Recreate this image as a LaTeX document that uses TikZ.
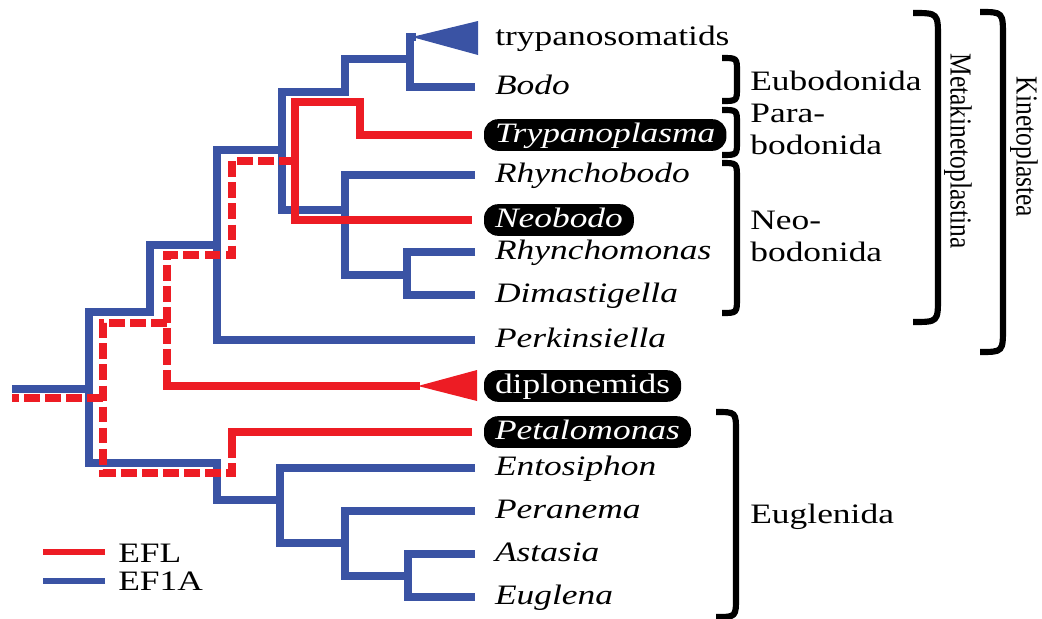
\documentclass[tikz,border=0pt]{standalone}
\usepackage{fontspec}
\setmainfont{Liberation Serif}[FakeStretch=1.26]
\newfontfamily\uprightrm{Liberation Serif}
\usepackage{graphicx}
\usepackage{xcolor}
\usepackage{tikz}
\usetikzlibrary{positioning}
\definecolor{eflred}{RGB}{237,28,36}
\definecolor{efblue}{RGB}{58,83,164}

\begin{document}
\begin{tikzpicture}[x=0.02cm, y=-0.02cm,
    branch/.style={line width=4pt, line join=miter},
    ef1a/.style={branch, draw=efblue},
    efl/.style={branch, draw=eflred},
    efllost/.style={efl, dash pattern=on 9pt off 3pt},
    taxon/.style={anchor=west, inner xsep=0pt, outer xsep=0.16cm, inner ysep=2pt,
      text height=11.5pt, text depth=2.5pt, font=\fontsize{16}{18}\selectfont\itshape},
    marked/.style={fill=black, text=white, rounded corners=8pt, inner xsep=0.22cm, outer xsep=0pt},
    group/.style={anchor=base west, inner sep=0pt, font=\fontsize{16}{18}\selectfont},
    bracket/.style={line width=3.5pt},
    vlabel/.style={rotate=-90, inner sep=0pt, font=\uprightrm\fontsize{14.5}{17}\selectfont}]
  \useasboundingbox (0,0) rectangle (1042,619);

  % taxa
  \node[group] (tryp) at (495,45) {trypanosomatids};
  \node[taxon] (bodo) at (487,87) {Bodo};
  \node[taxon, marked] (tpl) at (484,135) {Trypanoplasma};
  \node[taxon] (rhb) at (487,175) {Rhynchobodo};
  \node[taxon, marked] (neo) at (484,220) {Neobodo};
  \node[taxon] (rhm) at (487,252) {Rhynchomonas};
  \node[taxon] (dim) at (487,295) {Dimastigella};
  \node[taxon] (perk) at (487,340) {Perkinsiella};
  \node[taxon, marked, font=\fontsize{16}{18}\selectfont] (dipl) at (484,386) {diplonemids};
  \node[taxon, marked] (pet) at (484,432) {Petalomonas};
  \node[taxon] (ent) at (487,468) {Entosiphon};
  \node[taxon] (per) at (487,511) {Peranema};
  \node[taxon] (ast) at (487,554) {Astasia};
  \node[taxon] (eug) at (487,597) {Euglena};

  % EF1A tree
  \coordinate (tryptip) at (416,37);
  \coordinate (cTB) at (410,59);
  \coordinate (bTB) at (345,92);
  \coordinate (cMeta) at (282,150);
  \coordinate (cNeo) at (345,210);
  \coordinate (cRD) at (407,275);
  \coordinate (cKin) at (217,245);
  \coordinate (bKin) at (150,312);
  \coordinate (cRoot) at (89,389);
  \coordinate (bEug) at (217,463);
  \coordinate (cEug) at (280,500);
  \coordinate (cPE) at (345,543);
  \coordinate (cAE) at (408,576);
  \coordinate (rootA) at (12,389);

  \draw[ef1a, shorten <=0.24cm] (bodo) -| (cTB) |- (tryptip);
  \fill[efblue] (tryptip) ++(-4,0) -- ++(66,-16) -- ++(0,34) -- cycle;
  \draw[ef1a] (cTB) -| (bTB) -| (cMeta |- cNeo) -- (cNeo);
  \draw[ef1a, shorten <=0.24cm] (rhb) -| (cNeo) |- (cRD);
  \draw[ef1a, shorten <=0.24cm, shorten >=0.24cm] (rhm) -| (cRD) |- (dim);
  \draw[ef1a, shorten >=0.24cm] (cMeta) -| (cKin) |- (perk);
  \draw[ef1a] (cKin) -| (bKin) -| (cRoot) |- (bEug) |- (cEug);
  \draw[ef1a] (cRoot) -- (rootA);
  \draw[ef1a, shorten <=0.24cm] (ent) -| (cEug) |- (cPE);
  \draw[ef1a, shorten <=0.24cm] (per) -| (cPE) |- (cAE);
  \draw[ef1a, shorten <=0.24cm, shorten >=0.24cm] (ast) -| (cAE) |- (eug);

  % EFL tree
  \coordinate (dipltip) at (420,386);
  \coordinate (bTpl) at (360,102);
  \coordinate (cPN) at (295,161);
  \coordinate (bPN) at (232,255);
  \coordinate (cDip) at (167,323);
  \coordinate (bDip) at (167,386);
  \coordinate (cRootR) at (103,398);
  \coordinate (bPet) at (232,473);
  \coordinate (bPet2) at (232,432);
  \coordinate (rootL) at (12,398);

  \draw[efl, shorten <=0.24cm, shorten >=0.24cm] (tpl) -| (bTpl) -| (cPN) |- (neo);
  \draw[efllost] (cPN) -| (bPN) -| (bDip);
  \draw[efl] (bDip) ++(0,-12) -- (bDip) -- (dipltip);
  \fill[eflred] (dipltip) ++(-2,0) -- ++(59,-16) -- ++(0,31) -- cycle;
  \draw[efllost] (cDip) -| (cRootR) |- (bPet) -- (bPet2);
  \draw[efl, shorten >=0.24cm] (bPet2) ++(0,10) -- (bPet2) -- (pet);
  \draw[efllost] (cRootR) -- (rootL);

  % brackets
  \draw[bracket] (722,58) .. controls (737,58) .. (737,72) -- (737,87) .. controls (737,101) .. (722,101);
  \draw[bracket] (722,110) .. controls (737,110) .. (737,124) -- (737,141) .. controls (737,155) .. (722,155);
  \draw[bracket] (722,163) .. controls (737,163) .. (737,179) -- (737,297) .. controls (737,313) .. (722,313);
  \draw[bracket] (716,412) .. controls (736,412) .. (736,432) -- (736,597) .. controls (736,617) .. (716,617);
  \draw[bracket] (913,13) .. controls (938,13) .. (938,38) -- (938,297) .. controls (938,322) .. (913,322);
  \draw[bracket] (980,12) .. controls (1003,12) .. (1003,37) -- (1003,327) .. controls (1003,352) .. (980,352);

  \node[group] (eubod) at (750,90) {Eubodonida};
  \node[group, anchor=north west, align=left] (parabod) at (750,104) {Para-\\bodonida};
  \node[group, anchor=north west, align=left] (neobod) at (750,211) {Neo-\\bodonida};
  \node[group] (eugl) at (750,523) {Euglenida};
  \node[vlabel] (meta) at (958,151) {\scalebox{1}[1.2]{Metakinetoplastina}};
  \node[vlabel] (kineto) at (1024,147) {\scalebox{1}[1.2]{Kinetoplastea}};

  % legend
  \node[group] (lgefl) at (118,562) {EFL};
  \node[group] (lgefa) at (118,590) {EF1A};
  \draw[efl, line width=3.5pt] ([xshift=-0.26cm]lgefl.west |- 0,552) -- ++(-62,0);
  \draw[ef1a, line width=3.5pt] ([xshift=-0.26cm]lgefa.west |- 0,581) -- ++(-62,0);
\end{tikzpicture}
\end{document}
